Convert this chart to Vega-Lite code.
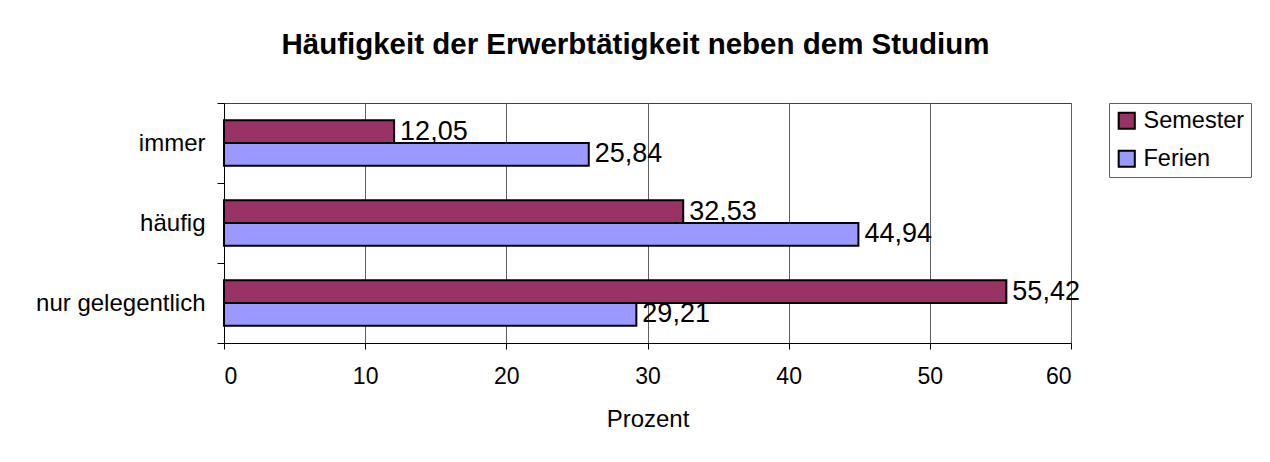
{
  "$schema": "https://vega.github.io/schema/vega-lite/v6.json",
  "width": 847,
  "height": 240,
  "autosize": {"type": "none"},
  "padding": {"left": 224, "top": 103, "right": 199, "bottom": 119},
  "background": "white",
  "title": {
    "text": "Häufigkeit der Erwerbtätigkeit neben dem Studium",
    "fontSize": 29.5,
    "fontWeight": "bold",
    "font": "Liberation Sans",
    "color": "black",
    "anchor": "middle",
    "frame": "group",
    "dx": -12,
    "offset": 31
  },
  "data": {
    "values": [
      {"Kategorie": "immer", "Zeitraum": "Semester", "Prozent": 12.05},
      {"Kategorie": "immer", "Zeitraum": "Ferien", "Prozent": 25.84},
      {"Kategorie": "häufig", "Zeitraum": "Semester", "Prozent": 32.53},
      {"Kategorie": "häufig", "Zeitraum": "Ferien", "Prozent": 44.94},
      {"Kategorie": "nur gelegentlich", "Zeitraum": "Semester", "Prozent": 55.42},
      {"Kategorie": "nur gelegentlich", "Zeitraum": "Ferien", "Prozent": 29.21}
    ]
  },
  "encoding": {
    "y": {
      "field": "Kategorie",
      "type": "nominal",
      "sort": ["immer", "häufig", "nur gelegentlich"],
      "scale": {"paddingInner": 0, "paddingOuter": 0},
      "axis": {
        "title": null,
        "labelFontSize": 24,
        "labelColor": "black",
        "labelPadding": 12,
        "tickBand": "extent",
        "tickSize": 7,
        "tickColor": "black",
        "domainColor": "black",
        "grid": false
      }
    },
    "x": {
      "field": "Prozent",
      "type": "quantitative",
      "scale": {"domain": [0, 60], "nice": false},
      "axis": {
        "values": [0, 10, 20, 30, 40, 50, 60],
        "title": "Prozent",
        "titleFontSize": 24,
        "titleFontWeight": "normal",
        "titleColor": "black",
        "titlePadding": 19,
        "labelFontSize": 23,
        "labelColor": "black",
        "labelPadding": 16,
        "tickSize": 6,
        "tickColor": "black",
        "domainColor": "black",
        "grid": true,
        "gridColor": "#606060",
        "format": "d"
      }
    },
    "yOffset": {
      "field": "Zeitraum",
      "type": "nominal",
      "sort": ["Semester", "Ferien"],
      "scale": {"paddingInner": 0, "paddingOuter": 0.766}
    }
  },
  "layer": [
    {
      "mark": {"type": "bar", "stroke": "black", "strokeWidth": 2},
      "encoding": {
        "color": {
          "field": "Zeitraum",
          "type": "nominal",
          "scale": {"domain": ["Semester", "Ferien"], "range": ["#993366", "#9999FF"]},
          "legend": {
            "title": null,
            "orient": "none",
            "legendX": 885,
            "legendY": 0,
            "labelFontSize": 23.5,
            "labelColor": "black",
            "labelOffset": 5,
            "labelExpr": "datum.label + '    '",
            "symbolType": "square",
            "symbolSize": 260,
            "symbolStrokeColor": "black",
            "symbolStrokeWidth": 2,
            "strokeColor": "#606060",
            "fillColor": "white",
            "padding": 6,
            "rowPadding": 13
          }
        }
      }
    },
    {
      "mark": {"type": "text", "align": "left", "baseline": "middle", "dx": 6, "fontSize": 27, "color": "black"},
      "encoding": {
        "text": {"field": "Prozent", "type": "quantitative", "format": ".2f"}
      }
    }
  ],
  "config": {
    "font": "Liberation Sans",
    "locale": {
      "number": {"decimal": ",", "thousands": ".", "grouping": [3], "currency": ["", " €"]}
    },
    "view": {"stroke": "#404040", "strokeWidth": 1}
  }
}
